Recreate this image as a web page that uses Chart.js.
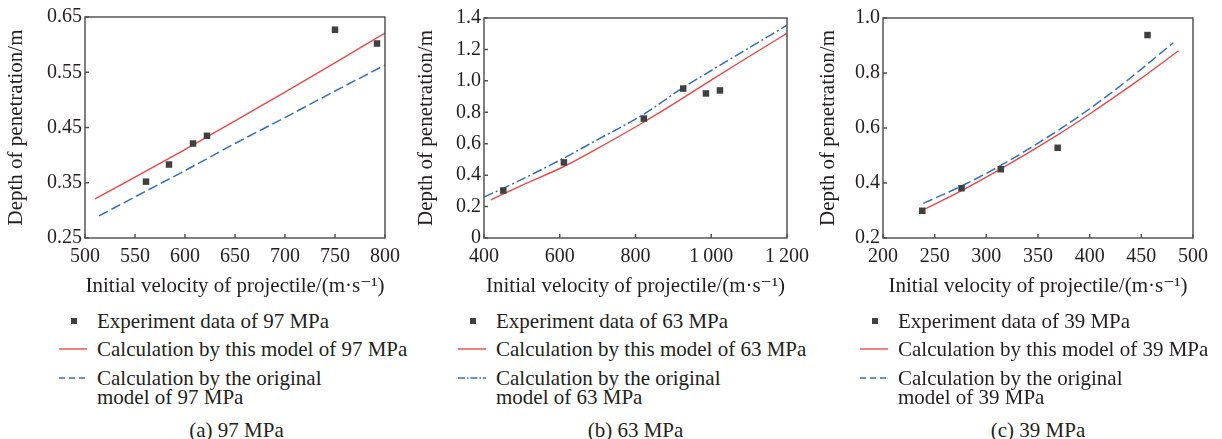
<!DOCTYPE html>
<html>
<head>
<meta charset="utf-8">
<script src="https://cdn.jsdelivr.net/npm/chart.js@4.4.1/dist/chart.umd.min.js"></script>
<style>
  html, body { margin: 0; padding: 0; background: #ffffff; }
  #root { position: relative; width: 1222px; height: 439px; overflow: hidden; font-family: "Liberation Serif", "Times New Roman", Times, "DejaVu Serif", serif; color: #231f20; }
  .pane { position: absolute; top: 0; width: 407px; height: 300px; }
  .lg { position: absolute; font-size: 21px; line-height: 24px; white-space: nowrap; }
  .lg2 { position: absolute; font-size: 21px; line-height: 19px; white-space: nowrap; }
  .cap { position: absolute; font-size: 21px; line-height: 24px; white-space: nowrap; transform: translateX(-50%); }
  .sw { position: absolute; }
  .mk { position: absolute; width: 6px; height: 6px; background: #404040; }
</style>
</head>
<body>
<div id="root">
  <div class="pane" style="left:0px"><canvas id="cA"></canvas></div>
  <div class="pane" style="left:410px"><canvas id="cB"></canvas></div>
  <div class="pane" style="left:815px"><canvas id="cC"></canvas></div>
</div>
<script>
// ---------- Data ----------
// Panel (a) 97 MPa
const expVelA = [561, 584, 608, 622, 750, 792];
const expDepA = [0.352, 0.383, 0.421, 0.435, 0.627, 0.602];
const newVelA = [510, 560, 599, 650, 700, 749, 800];
const newDepA = [0.321, 0.370, 0.409, 0.462, 0.514, 0.566, 0.621];
const oldVelA = [514, 560, 599, 650, 700, 749, 800];
const oldDepA = [0.290, 0.334, 0.371, 0.421, 0.468, 0.515, 0.563];
const xTicksA = [500, 550, 600, 650, 700, 750, 800];
const xLabelsA = ['500', '550', '600', '650', '700', '750', '800'];
const yTicksA = [0.25, 0.35, 0.45, 0.55, 0.65];
const yLabelsA = ['0.25', '0.35', '0.45', '0.55', '0.65'];

// Panel (b) 63 MPa
const expVelB = [451, 611, 822, 926, 986, 1023];
const expDepB = [0.302, 0.481, 0.760, 0.951, 0.920, 0.939];
const newVelB = [418, 500, 611, 700, 820, 925, 1005, 1100, 1200];
const newDepB = [0.243, 0.335, 0.455, 0.570, 0.735, 0.890, 1.013, 1.155, 1.303];
const oldVelB = [400, 500, 611, 700, 820, 925, 1005, 1100, 1200];
const oldDepB = [0.260, 0.373, 0.509, 0.626, 0.785, 0.956, 1.073, 1.210, 1.354];
const xTicksB = [400, 600, 800, 1000, 1200];
const xLabelsB = ['400', '600', '800', '1\u2009000', '1\u2009200'];
const yTicksB = [0, 0.2, 0.4, 0.6, 0.8, 1.0, 1.2, 1.4];
const yLabelsB = ['0', '0.2', '0.4', '0.6', '0.8', '1.0', '1.2', '1.4'];

// Panel (c) 39 MPa
const expVelC = [238, 276, 314, 369, 456];
const expDepC = [0.299, 0.381, 0.450, 0.528, 0.938];
const newVelC = [238, 276, 314, 369, 400, 447, 486];
const newDepC = [0.300, 0.372, 0.451, 0.575, 0.651, 0.773, 0.881];
const oldVelC = [239, 276, 314, 369, 400, 432, 481];
const oldDepC = [0.326, 0.389, 0.464, 0.590, 0.670, 0.760, 0.910];
const xTicksC = [200, 250, 300, 350, 400, 450, 500];
const xLabelsC = ['200', '250', '300', '350', '400', '450', '500'];
const yTicksC = [0.2, 0.4, 0.6, 0.8, 1.0];
const yLabelsC = ['0.2', '0.4', '0.6', '0.8', '1.0'];

const legendExp = ['Experiment data of 97 MPa', 'Experiment data of 63 MPa', 'Experiment data of 39 MPa'];
const legendNew = ['Calculation by this model of 97 MPa', 'Calculation by this model of 63 MPa', 'Calculation by this model of 39 MPa'];
const legendOld1 = ['Calculation by the original', 'Calculation by the original', 'Calculation by the original'];
const legendOld2 = ['model of 97 MPa', 'model of 63 MPa', 'model of 39 MPa'];
const captions = ['(a) 97 MPa', '(b) 63 MPa', '(c) 39 MPa'];

// ---------- Styling ----------
const FONT = "'Liberation Serif', 'Times New Roman', Times, 'DejaVu Serif', serif";
const TXT = '#231f20';
const RED = '#ec4848';
const BLUE = '#3070c4';
const MARK = '#404040';
const FRAME = '#555555';

const zip = (xs, ys) => xs.map((x, i) => ({ x: x, y: ys[i] }));

const framePlugin = {
  id: 'frame',
  afterDatasetsDraw(chart) {
    const { ctx, chartArea: a, scales } = chart;
    ctx.save();
    ctx.strokeStyle = FRAME;
    ctx.lineWidth = 1.5;
    ctx.beginPath();
    scales.x.ticks.forEach(t => {
      const px = scales.x.getPixelForValue(t.value);
      ctx.moveTo(px, a.bottom);
      ctx.lineTo(px, a.bottom - 4);
    });
    scales.y.ticks.forEach(t => {
      const py = scales.y.getPixelForValue(t.value);
      ctx.moveTo(a.left, py);
      ctx.lineTo(a.left + 4, py);
    });
    ctx.stroke();
    ctx.strokeRect(a.left, a.top, a.right - a.left, a.bottom - a.top);
    ctx.restore();
  }
};

function makeChart(id, cfg) {
  const ctx = document.getElementById(id);
  return new Chart(ctx, {
    type: 'scatter',
    data: {
      datasets: [
        {
          label: 'exp', data: zip(cfg.expV, cfg.expD), showLine: false,
          pointStyle: 'rect', pointRadius: 4.6, pointBackgroundColor: MARK,
          pointBorderColor: MARK, pointBorderWidth: 0, order: 0
        },
        {
          label: 'new', data: zip(cfg.newV, cfg.newD), showLine: true,
          borderColor: RED, borderWidth: 1.4, pointRadius: 0,
          cubicInterpolationMode: 'monotone', order: 2
        },
        {
          label: 'old', data: zip(cfg.oldV, cfg.oldD), showLine: true,
          borderColor: BLUE, borderWidth: 1.5, pointRadius: 0, borderDash: cfg.dash,
          cubicInterpolationMode: 'monotone', order: 1
        }
      ]
    },
    options: {
      responsive: false,
      animation: false,
      devicePixelRatio: 1,
      events: [],
      layout: { padding: { top: cfg.padTop, right: cfg.padRight, bottom: 0, left: 0 } },
      plugins: { legend: { display: false }, tooltip: { enabled: false } },
      scales: {
        x: {
          type: 'linear', min: cfg.xMin, max: cfg.xMax,
          grid: { display: false, drawTicks: false },
          border: { display: false },
          afterBuildTicks: s => { s.ticks = cfg.xTicks.map(v => ({ value: v })); },
          afterFit: s => { s.height = 300 - cfg.bottomY; },
          ticks: {
            autoSkip: false, maxRotation: 0, padding: 7, color: TXT,
            font: { family: FONT, size: 20 },
            callback: (v, i) => cfg.xLabels[i]
          },
          title: {
            display: true, text: 'Initial velocity of projectile/(m\u00b7s\u207b\u00b9)', color: TXT,
            font: { family: FONT, size: 21 }, padding: { top: 0, bottom: 1 }
          }
        },
        y: {
          type: 'linear', min: cfg.yMin, max: cfg.yMax,
          grid: { display: false, drawTicks: false },
          border: { display: false },
          afterBuildTicks: s => { s.ticks = cfg.yTicks.map(v => ({ value: v })); },
          afterFit: s => { s.width = cfg.yWidth; },
          ticks: {
            autoSkip: false, padding: 3, color: TXT,
            font: { family: FONT, size: 20 },
            callback: (v, i) => cfg.yLabels[i]
          },
          title: {
            display: true, text: 'Depth of penetration/m', color: TXT,
            font: { family: FONT, size: 21 }, padding: { top: cfg.yTitlePad, bottom: 0 }
          }
        }
      }
    },
    plugins: [framePlugin]
  });
}

function sizeCanvas(id) {
  const c = document.getElementById(id);
  c.width = 407; c.height = 300;
  c.style.width = '407px'; c.style.height = '300px';
}
['cA', 'cB', 'cC'].forEach(sizeCanvas);

makeChart('cA', {
  expV: expVelA, expD: expDepA, newV: newVelA, newD: newDepA, oldV: oldVelA, oldD: oldDepA,
  dash: [10, 4], xMin: 500, xMax: 800, yMin: 0.25, yMax: 0.65,
  xTicks: xTicksA, xLabels: xLabelsA, yTicks: yTicksA, yLabels: yLabelsA,
  padTop: 17, padRight: 19, bottomY: 238, yWidth: 85, yTitlePad: 4
});
makeChart('cB', {
  expV: expVelB, expD: expDepB, newV: newVelB, newD: newDepB, oldV: oldVelB, oldD: oldDepB,
  dash: [10, 3, 2, 3], xMin: 400, xMax: 1200, yMin: 0, yMax: 1.4,
  xTicks: xTicksB, xLabels: xLabelsB, yTicks: yTicksB, yLabels: yLabelsB,
  padTop: 18, padRight: 30, bottomY: 238, yWidth: 74, yTitlePad: 4
});
makeChart('cC', {
  expV: expVelC, expD: expDepC, newV: newVelC, newD: newDepC, oldV: oldVelC, oldD: oldDepC,
  dash: [10, 4], xMin: 200, xMax: 500, yMin: 0.2, yMax: 1.0,
  xTicks: xTicksC, xLabels: xLabelsC, yTicks: yTicksC, yLabels: yLabelsC,
  padTop: 18, padRight: 29, bottomY: 238, yWidth: 68, yTitlePad: 1
});

// ---------- Legends and captions (HTML text) ----------
const root = document.getElementById('root');
const legendLeft = [59, 458, 860];
const capCenter = [236.5, 635.5, 1038];
const dashes = ['6,4', '7,2,1.5,2', '6,4'];
function add(html) { root.insertAdjacentHTML('beforeend', html); }
for (let p = 0; p < 3; p++) {
  const L = legendLeft[p];
  const T = L + 38;
  add(`<div class="mk" style="left:${L + 12}px;top:${321 - 3}px"></div>`);
  add(`<div class="lg" style="left:${T}px;top:${321 - 12}px">${legendExp[p]}</div>`);
  add(`<svg class="sw" style="left:${L}px;top:${349 - 5}px" width="29" height="10"><line x1="0" y1="5" x2="28" y2="5" stroke="${RED}" stroke-width="1.4"/></svg>`);
  add(`<div class="lg" style="left:${T}px;top:${349 - 12}px">${legendNew[p]}</div>`);
  add(`<svg class="sw" style="left:${L}px;top:${378 - 5}px" width="29" height="10"><line x1="0" y1="5" x2="28" y2="5" stroke="${BLUE}" stroke-width="1.5" stroke-dasharray="${dashes[p]}"/></svg>`);
  add(`<div class="lg2" style="left:${T}px;top:${378 - 9.5}px">${legendOld1[p]}<br>${legendOld2[p]}</div>`);
  add(`<div class="cap" style="left:${capCenter[p]}px;top:${430 - 12}px">${captions[p]}</div>`);
}
</script>
</body>
</html>
